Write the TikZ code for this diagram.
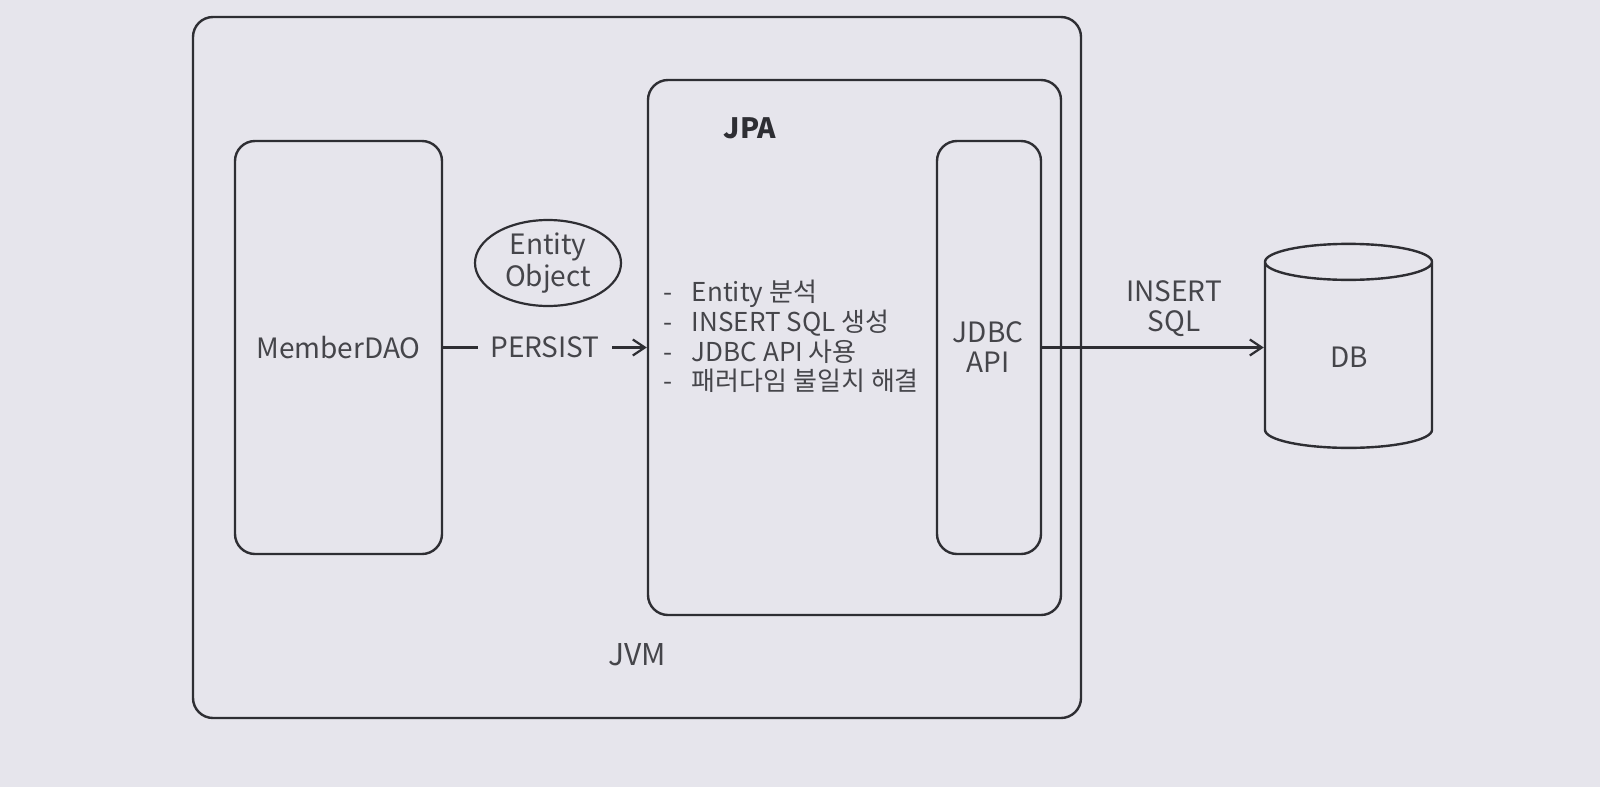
\documentclass[tikz,border=0pt]{standalone}
\usepackage{fontspec}
\setmainfont{Noto Sans CJK KR}
\usetikzlibrary{arrows.meta,shapes.geometric}
\definecolor{bg}{HTML}{E6E5EC}
\definecolor{ink}{HTML}{2E2E33}
\definecolor{txt}{HTML}{45454A}
\newcommand{\stepdash}{-\hspace{0.75em}}
\tikzset{
  box/.style={draw=ink, line width=1.2pt, rounded corners=10pt},
  lbl/.style={text=txt, font=\fontsize{14}{15}\selectfont, inner sep=0pt},
  conn/.style={draw=ink, line width=1.1pt},
  arrowline/.style={-{Straight Barb[length=6pt,width=8pt,line width=1.1pt]}}
}
\begin{document}
\begin{tikzpicture}[x=0.5pt,y=-0.5pt]
\fill[bg] (0,0) rectangle (1600,787);
\useasboundingbox (0,0) rectangle (1600,787);
% containers
\node[box, minimum width=444pt, minimum height=350.5pt] (jvm) at (637,367.5) {};
\node[box, minimum width=103.5pt, minimum height=206.5pt] (dao) at (338.5,347.5) {};
\node[box, minimum width=206.5pt, minimum height=267.5pt] (jpa) at (854.5,347.5) {};
\node[box, minimum width=52pt, minimum height=206.5pt] (jdbc) at (989,347.5) {};
\node[draw=ink, line width=1.2pt, cylinder, shape border rotate=90, aspect=2.7,
      minimum width=83.5pt, minimum height=102pt] (db) at (1348.5,359) {};
% labels
\node[lbl, font=\fontsize{15}{15}\selectfont] (jvmname) at (637,655) {JVM};
\node[lbl, text=ink, font=\bfseries\fontsize{14}{15}\selectfont] (jpaname) at (750,128) {JPA};
\node[lbl] (daoname) at (dao) {MemberDAO};
\node[lbl, align=center, font=\fontsize{14}{15}\selectfont] (jdbcname) at (988,347) {JDBC\\API};
\node[lbl] (dbname) at (1349,357) {DB};
\node[lbl, draw=ink, line width=1.1pt, ellipse, minimum width=73pt, minimum height=43pt,
      align=center, font=\fontsize{14}{16}\selectfont] (entity) at (548,263) {Entity\\Object};
\node[lbl, align=left, anchor=west, font=\fontsize{13}{14.8}\selectfont] (steps) at (663,336.5)
  {\stepdash Entity 분석\\\stepdash INSERT SQL 생성\\\stepdash JDBC API 사용\\\stepdash 패러다임 불일치 해결};
% connectors
\draw[conn, arrowline] (dao.east) -- node[lbl, fill=bg, inner xsep=6pt] (persist) {PERSIST} (jpa.west);
\draw[conn, arrowline] (jdbc.east) -- node[lbl, pos=0.595, above=5pt, align=center] (sql) {INSERT\\SQL} (jdbc.east -| db.west);
\end{tikzpicture}
\end{document}
